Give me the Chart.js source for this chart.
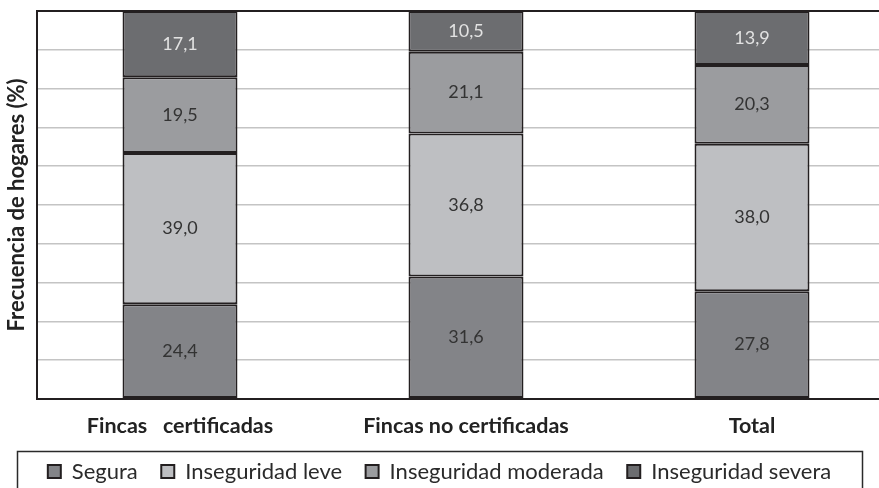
<!DOCTYPE html>
<html>
<head>
<meta charset="utf-8">
<script src="https://cdn.jsdelivr.net/npm/chart.js@4.4.1/dist/chart.umd.min.js"></script>
<style>
  html, body { margin: 0; padding: 0; background: #ffffff; overflow: hidden; }
  #wrap { width: 895px; height: 488px; position: relative; }
</style>
</head>
<body>
<div id="wrap"><canvas id="c"></canvas></div>
<script>
const categories = ["Fincas   certificadas", "Fincas no certificadas", "Total"];
const seriesNames = ["Segura", "Inseguridad leve", "Inseguridad moderada", "Inseguridad severa"];
const segura = [24.4, 31.6, 27.8];
const leve = [39.0, 36.8, 38.0];
const moderada = [19.5, 21.1, 20.3];
const severa = [17.1, 10.5, 13.9];
const yTitle = "Frecuencia de hogares (%)";

const fills = ["#838488", "#bebfc2", "#9b9c9f", "#6c6d70"];
const labelColors = ["#333333", "#333333", "#333333", "#e2e2e2"];
const FONT = "Lato, 'Open Sans', sans-serif";

function ds(label, data, i) {
  return {
    label: label,
    data: data,
    backgroundColor: fills[i],
    borderColor: "#231f20",
    borderWidth: 2,
    borderSkipped: false,
    barPercentage: 0.402,
    categoryPercentage: 1.0
  };
}

const valueLabels = {
  id: "valueLabels",
  afterDatasetsDraw(chart) {
    const ctx = chart.ctx;
    ctx.save();
    ctx.font = "18px " + FONT;
    ctx.textAlign = "center";
    ctx.textBaseline = "middle";
    chart.data.datasets.forEach((d, i) => {
      const meta = chart.getDatasetMeta(i);
      meta.data.forEach((bar, j) => {
        const p = bar.getCenterPoint();
        ctx.fillStyle = labelColors[i];
        ctx.fillText(d.data[j].toFixed(1).replace(".", ","), p.x, p.y);
      });
    });
    ctx.restore();
  }
};

const frame = {
  id: "frame",
  afterLayout(chart) {
    // centre the legend on the visible 879px window
    chart.legend.left = 0;
    chart.legend.right = 879;
  },
  afterDraw(chart) {
    const ctx = chart.ctx;
    ctx.save();
    ctx.strokeStyle = "#2a2a2a";
    ctx.lineWidth = 1.5;
    ctx.strokeRect(17.5, 451.5, 845, 60);
    ctx.restore();
  }
};

new Chart(document.getElementById("c"), {
  type: "bar",
  data: {
    labels: categories,
    datasets: [
      ds(seriesNames[0], segura, 0),
      ds(seriesNames[1], leve, 1),
      ds(seriesNames[2], moderada, 2),
      ds(seriesNames[3], severa, 3)
    ]
  },
  options: {
    responsive: true,
    maintainAspectRatio: false,
    animation: false,
    layout: { padding: { top: 11, left: 0, right: 0, bottom: -4.5 } },
    plugins: {
      legend: {
        position: "bottom",
        labels: {
          boxWidth: 13,
          boxHeight: 13,
          padding: 23.5,
          color: "#2a2a2a",
          font: { family: FONT, size: 22 }
        }
      },
      tooltip: { enabled: false }
    },
    scales: {
      x: {
        stacked: true,
        grid: { display: false, drawTicks: false },
        border: { display: true, color: "#231f20", width: 2 },
        ticks: {
          padding: 14,
          color: "#222222",
          font: { family: FONT, size: 21.5, weight: "bold" }
        },
        afterFit(s) { s.height = 38; }
      },
      y: {
        stacked: true,
        min: 0,
        max: 100,
        ticks: { display: false, stepSize: 10 },
        grid: {
          drawTicks: false,
          color: (c) => (c.tick && (c.tick.value === 100 || c.tick.value === 0)) ? "#231f20" : "#c4c4c4",
          lineWidth: (c) => (c.tick && (c.tick.value === 100 || c.tick.value === 0)) ? 2 : 1.5
        },
        border: { display: true, color: "#231f20", width: 2 },
        title: {
          display: true,
          text: yTitle,
          color: "#222222",
          font: { family: FONT, size: 22, weight: "bold" },
          padding: { top: 4, bottom: 0 }
        },
        afterFit(s) { s.width = 37; }
      }
    }
  },
  plugins: [valueLabels, frame]
});
</script>
</body>
</html>
